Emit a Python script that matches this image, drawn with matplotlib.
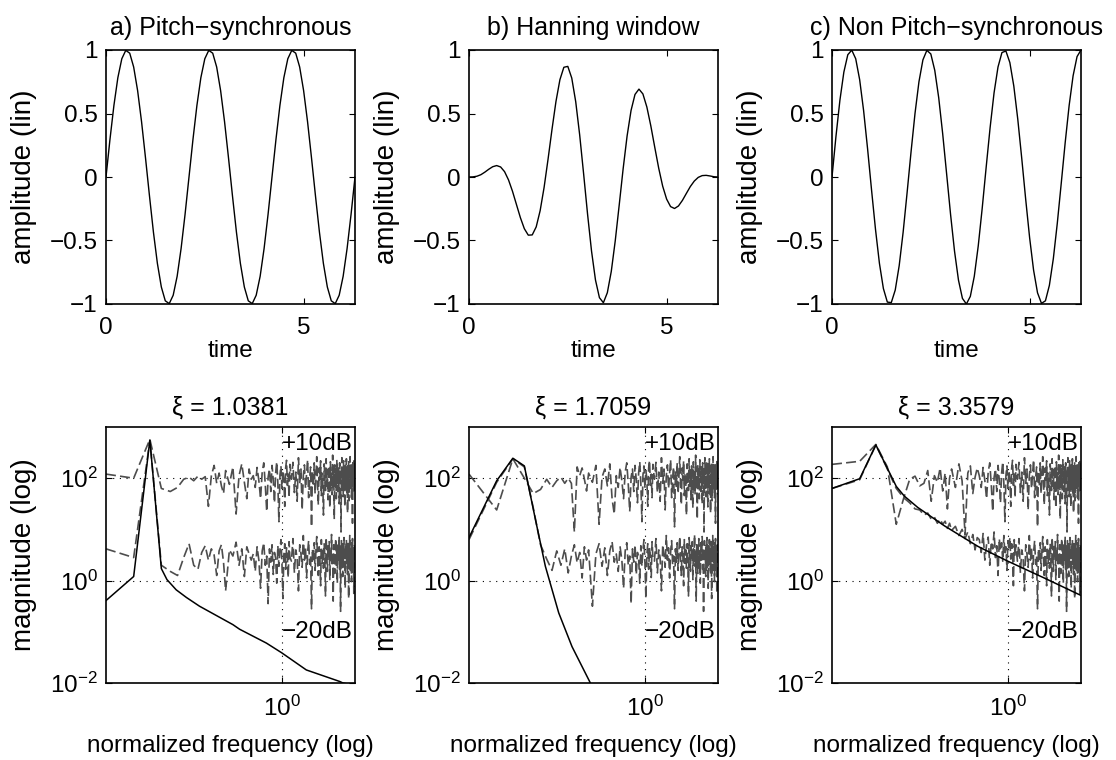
import numpy as np
import matplotlib
matplotlib.use('Agg')
import matplotlib.pyplot as plt
from matplotlib.ticker import NullLocator

plt.rcParams['font.family'] = ['Liberation Sans', 'DejaVu Sans']
plt.rcParams['mathtext.fontset'] = 'custom'
plt.rcParams['mathtext.rm'] = 'Liberation Sans'
plt.rcParams['mathtext.it'] = 'Liberation Sans:italic'

titles_top = ['a) Pitch\u2212synchronous', 'b) Hanning window', 'c) Non Pitch\u2212synchronous']
titles_bot = ['\u03be = 1.0381', '\u03be = 1.7059', '\u03be = 3.3579']

# time signals (64 samples over 0..2pi)
t = np.linspace(0, 2 * np.pi, 64)
wave_a = [0.000, 0.295, 0.563, 0.782, 0.931, 0.997, 0.975, 0.866, 0.680, 0.434, 0.149,
          -0.149, -0.434, -0.680, -0.866, -0.975, -0.997, -0.931, -0.782, -0.563, -0.295,
          0.000, 0.295, 0.563, 0.782, 0.931, 0.997, 0.975, 0.866, 0.680, 0.434, 0.149,
          -0.149, -0.434, -0.680, -0.866, -0.975, -0.997, -0.931, -0.782, -0.563, -0.295,
          0.000, 0.295, 0.563, 0.782, 0.931, 0.997, 0.975, 0.866, 0.680, 0.434, 0.149,
          -0.149, -0.434, -0.680, -0.866, -0.975, -0.997, -0.931, -0.782, -0.563, -0.295,
          0.000]
wave_b = [0.000, 0.001, 0.006, 0.018, 0.038, 0.061, 0.081, 0.090, 0.079, 0.042,
          -0.023, -0.112, -0.216, -0.320, -0.407, -0.458, -0.456, -0.393, -0.265, -0.082,
          0.140, 0.375, 0.594, 0.766, 0.864, 0.871, 0.779, 0.593, 0.332, 0.025,
          -0.293, -0.583, -0.811, -0.950, -0.990, -0.911, -0.743, -0.503, -0.222, 0.065,
          0.323, 0.524, 0.650, 0.692, 0.654, 0.551, 0.403, 0.234, 0.069, -0.072,
          -0.174, -0.233, -0.248, -0.228, -0.184, -0.129, -0.075, -0.032, -0.003, 0.011,
          0.013, 0.008, 0.002, 0.000]
wave_c = [0.000, 0.319, 0.604, 0.826, 0.963, 0.999, 0.931, 0.766, 0.522, 0.223,
          -0.100, -0.411, -0.680, -0.878, -0.985, -0.989, -0.890, -0.698, -0.434, -0.124,
          0.198, 0.500, 0.750, 0.922, 0.997, 0.969, 0.840, 0.624, 0.342, 0.025,
          -0.295, -0.584, -0.812, -0.956, -1.000, -0.940, -0.782, -0.543, -0.247, 0.075,
          0.388, 0.662, 0.866, 0.980, 0.992, 0.901, 0.716, 0.456, 0.149, -0.174,
          -0.478, -0.733, -0.912, -0.995, -0.975, -0.853, -0.643, -0.365, -0.050, 0.271,
          0.563, 0.797, 0.948, 1.000]

# spectra: FFT bins (N = 512), magnitudes as log10 values
n_fft = 512
bins_lo = np.r_[1:21, 22:39:2]
bins_mid = np.arange(40, 101, 2)
bins_hi = np.arange(104, 512, 4)

sig_a_bins = [1, 2, 3, 4, 4.6, 5.8, 7.5, 10.4, 24, 28.4, 55.5, 81.5, 151, 348, 378, 511]
sig_a_log = [-0.39, 0.08, 2.745, 0.235, 0.02, -0.18, -0.33, -0.50, -0.86, -0.95, -1.22, -1.41, -1.745, -1.97, -2.0, -2.05]
sig_b_bins = [1, 2, 3, 4, 5.27, 6.77, 9.46, 13.2, 20.9, 26]
sig_b_log = [0.84, 1.95, 2.39, 2.24, 1.20, 0.28, -0.63, -1.29, -2.0, -2.4]
sig_c_bins = [1, 2, 3, 5, 6.12, 8.55, 16.7, 38.5, 81.5, 204, 511]
sig_c_log = [1.80, 1.99, 2.65, 1.84, 1.65, 1.43, 1.07, 0.67, 0.38, 0.05, -0.29]

up_a_lo = [2.08, 2.00, 2.76, 1.80, 1.74, 1.82, 1.98, 2.02, 1.95, 2.04, 1.98, 2.03, 1.45, 2.05, 2.25,
           1.90, 2.10, 1.85, 1.70, 2.15, 1.88, 2.22, 1.30, 2.05, 2.28, 1.92, 1.60, 2.18, 1.98]
lo_a_lo = [0.62, 0.45, 2.74, 0.30, 0.18, 0.10, 0.45, 0.72, 0.30, 0.22, 0.55, 0.68, 0.40, 0.62, 0.50,
           0.10, 0.58, 0.70, 0.35, -0.20, 0.60, 0.48, 0.75, 0.30, 0.62, 0.08, 0.66, 0.52, 0.40]
up_b_lo = [2.08, 1.38, 2.38, 2.00, 1.70, 1.78, 1.98, 1.82, 1.95, 2.02, 1.90, 2.00, 1.90, 0.95, 2.22,
           2.05, 2.20, 1.98, 1.75, 2.10, 1.92, 2.25, 1.10, 2.02, 2.18, 1.85, 2.28, 1.60, 1.30]
lo_b_lo = [0.80, 1.92, 2.38, 2.22, 1.42, 0.70, 0.42, 0.20, 0.58, 0.30, 0.62, 0.15, 0.48, 0.70, 0.35,
           0.55, 0.05, 0.66, 0.40, 0.60, -0.50, 0.52, 0.72, 0.28, 0.64, 0.10, 0.58, 0.76, 0.36]
up_c_lo = [2.27, 2.33, 2.66, 2.22, 1.10, 1.60, 1.98, 2.04, 1.85, 1.90, 2.15, 1.55, 2.05, 1.92, 2.20,
           1.75, 2.10, 1.40, 2.00, 2.18, 1.82, 2.28, 1.95, 0.90, 2.10, 2.24, 1.70, 2.02, 2.20]
lo_c_lo = [1.80, 1.97, 2.65, 2.18, 1.80, 1.62, 1.52, 1.40, 1.38, 1.28, 1.32, 1.20, 1.24, 1.12, 1.20,
           1.10, 1.16, 1.02, 1.12, 0.98, 1.06, 0.88, 1.00, 0.82, 0.95, 0.72, 0.90, 0.60, 0.84]

up_mid = [2.05, 1.82, 2.21, 1.95, 1.60, 2.12, 2.30, 1.88, 1.35, 2.02, 2.18, 1.74, 2.25, 1.96, 1.52, 2.10,
          2.32, 1.90, 1.15, 2.06, 2.24, 1.80, 2.15, 1.98, 1.45, 2.20, 2.35, 1.86, 2.08, 1.62, 2.27]
lo_mid = [0.52, 0.18, 0.66, 0.40, -0.15, 0.58, 0.74, 0.30, 0.48, -0.45, 0.62, 0.36, 0.70, 0.12, 0.55, 0.44,
          -0.05, 0.68, 0.28, 0.60, 0.80, 0.34, -0.35, 0.50, 0.72, 0.22, 0.64, 0.42, 0.06, 0.76, 0.46]
lo_c_mid = [0.80, 0.55, 0.92, 0.40, 0.70, 0.85, 0.30, 0.76, 0.62, 0.95, 0.45, 0.68, 0.10, 0.82, 0.58, 0.74,
            0.38, 0.88, 0.50, 0.66, 0.20, 0.78, 0.60, 0.84, 0.42, 0.72, 0.56, -0.10, 0.80, 0.48, 0.70]

up_hi = [1.98, 2.31, 1.72, 2.12, 1.55, 2.40, 1.90, 2.18, 1.38, 2.05,
         2.26, 1.80, 2.08, 2.36, 1.62, 1.95, 2.22, 1.05, 2.14, 1.84,
         2.30, 1.70, 2.02, 2.42, 1.88, 1.48, 2.20, 1.96, 2.34, 1.66,
         2.10, 1.92, 1.28, 2.28, 2.04, 1.76, 2.38, 1.85, 2.16, 1.58,
         2.24, 2.00, 1.42, 2.32, 1.82, 2.12, 1.68, 2.45, 1.94, 2.06,
         1.20, 2.26, 1.86, 2.18, 1.60, 2.36, 1.98, 1.74, 2.22, 2.02,
         1.50, 2.30, 1.90, 2.14, 0.95, 2.08, 2.40, 1.78, 2.20, 1.64,
         2.34, 1.96, 2.10, 1.44, 2.28, 1.84, 2.16, 2.38, 1.70, 2.04,
         1.32, 2.24, 1.92, 2.32, 1.56, 2.12, 1.88, 2.42, 1.80, 2.00,
         2.26, 1.62, 2.18, 1.94, 1.12, 2.30, 2.06, 1.76, 2.36, 1.90,
         2.14, 1.68]
lo_hi = [0.38, 0.82, 0.15, 0.60, 0.44, -0.20, 0.70, 0.52, 0.26, 0.88,
         0.40, 0.64, 0.05, 0.56, 0.78, 0.32, 0.48, -0.55, 0.62, 0.36,
         0.74, 0.20, 0.58, 0.86, 0.42, 0.10, 0.66, 0.50, -0.10, 0.80,
         0.34, 0.60, 0.24, 0.72, 0.46, -0.30, 0.84, 0.54, 0.18, 0.68,
         0.44, 0.76, 0.02, 0.62, 0.38, 0.90, 0.28, 0.56, -0.40, 0.70,
         0.48, 0.14, 0.66, 0.82, 0.30, 0.58, -0.05, 0.74, 0.40, 0.52,
         0.86, 0.22, 0.64, -0.60, 0.50, 0.78, 0.36, 0.60, 0.08, 0.72,
         0.42, 0.84, 0.26, 0.56, -0.15, 0.68, 0.46, 0.80, 0.32, 0.62,
         0.12, 0.76, 0.54, -0.35, 0.70, 0.38, 0.88, 0.44, 0.20, 0.66,
         0.58, -0.02, 0.74, 0.34, 0.82, 0.48, 0.16, 0.64, -0.25, 0.52,
         0.70, 0.40]

waves = [wave_a, wave_b, wave_c]
signals = [(sig_a_bins, sig_a_log), (sig_b_bins, sig_b_log), (sig_c_bins, sig_c_log)]
noise_up = [up_a_lo + up_mid + up_hi, up_b_lo + up_mid + up_hi, up_c_lo + up_mid + up_hi]
noise_lo = [lo_a_lo + lo_mid + lo_hi, lo_b_lo + lo_mid + lo_hi, lo_c_lo + lo_c_mid + lo_hi]

FS = 17.5      # horizontal text
FS_T = 18      # titles
FS_Y = 20      # rotated y labels (they are drawn longer in the original)
W, H = 1116, 760
lefts = [106, 469, 832]

fig = plt.figure(figsize=(W / 100, H / 100), dpi=100)

def style(ax):
    ax.tick_params(which='both', direction='in', top=True, right=True, length=4, width=0.8,
                   labelsize=FS)
    for s in ax.spines.values():
        s.set_linewidth(1.2)

bins_all = np.r_[bins_lo, bins_mid, bins_hi]
freq = 2 * np.pi * bins_all / n_fft
grid_ls = (0, (1, 5))
noise_ls = (0, (6, 2.5))

for i in range(3):
    # top row: time signal
    ax = fig.add_axes([lefts[i] / W, 1 - 304 / H, 249 / W, 254 / H])
    ax.plot(t, waves[i], color='k', lw=1.0)
    ax.set_xlim(0, 2 * np.pi)
    ax.set_ylim(-1, 1)
    ax.set_xticks([0, 5])
    ax.set_xticklabels(['0', '5'])
    ax.set_yticks([-1, -0.5, 0, 0.5, 1])
    ax.set_yticklabels(['\u22121', '\u22120.5', '0', '0.5', '1'])
    style(ax)
    ax.tick_params(axis='x', pad=9)
    ax.tick_params(axis='y', pad=6)
    ax.set_title(titles_top[i], fontsize=FS_T, pad=11)
    ax.set_xlabel('time', fontsize=FS, labelpad=1)
    ax.set_ylabel('amplitude (lin)', fontsize=FS_Y, labelpad=9)

    # bottom row: spectra
    ax = fig.add_axes([lefts[i] / W, 1 - 683 / H, 249 / W, 256 / H])
    ax.set_xscale('log')
    ax.set_yscale('log')
    ax.axhline(1, color='k', lw=0.8, ls=grid_ls)
    ax.axhline(100, color='k', lw=0.8, ls=grid_ls)
    ax.axvline(1, color='k', lw=0.8, ls=grid_ls)
    ax.plot(freq, 10.0 ** np.array(noise_up[i]), color='0.3', lw=1.2, ls=noise_ls)
    ax.plot(freq, 10.0 ** np.array(noise_lo[i]), color='0.3', lw=1.2, ls=noise_ls)
    sb, sl = signals[i]
    ax.plot(2 * np.pi * np.array(sb) / n_fft, 10.0 ** np.array(sl), color='k', lw=1.1)
    ax.set_xlim(2 * np.pi / n_fft, 2 * np.pi * (n_fft - 1) / n_fft)
    ax.set_ylim(1e-2, 1e3)
    ax.set_xticks([1])
    ax.set_yticks([1e-2, 1, 1e2])
    ax.xaxis.set_minor_locator(NullLocator())
    ax.yaxis.set_minor_locator(NullLocator())
    style(ax)
    ax.tick_params(axis='x', pad=9)
    ax.tick_params(axis='y', pad=6)
    ax.text(1.0, 10 ** 2.67, '+10dB', fontsize=FS, ha='left', va='center')
    ax.text(1.0, 10 ** -1.0, '\u221220dB', fontsize=FS, ha='left', va='center')
    ax.set_title(titles_bot[i], fontsize=FS_T, pad=9)
    ax.set_xlabel('normalized frequency (log)', fontsize=FS, labelpad=10)
    ax.set_ylabel('magnitude (log)', fontsize=FS_Y, labelpad=9)

fig.savefig('out.png', dpi=100)
